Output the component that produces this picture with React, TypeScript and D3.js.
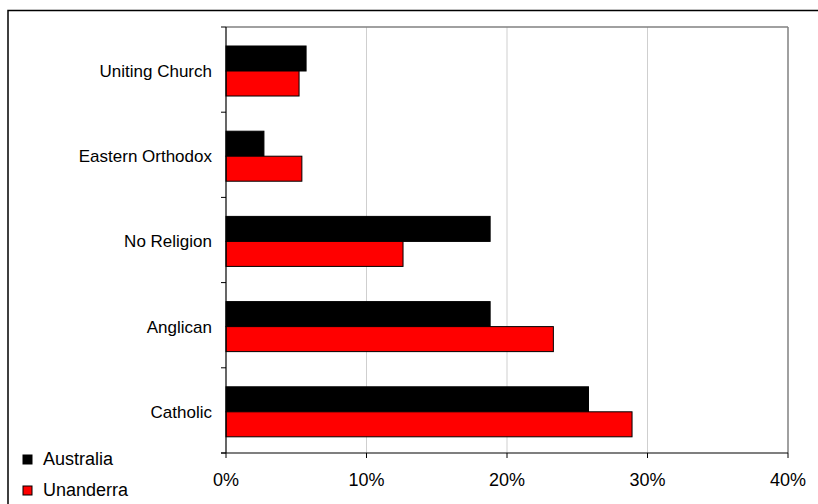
import React from "react";
import * as d3 from "d3";

const categories = ["Uniting Church", "Eastern Orthodox", "No Religion", "Anglican", "Catholic"];
const seriesNames = ["Australia", "Unanderra"];
const australia = [5.7, 2.7, 18.8, 18.8, 25.8];
const unanderra = [5.2, 5.4, 12.6, 23.3, 28.9];
const xTicks = [0, 10, 20, 30, 40];
const colors = ["#000000", "#FF0000"];

const W = 818;
const H = 504;
const left = 226;
const right = 788;
const top = 27;
const bottom = 453;
const font = "'Liberation Sans', Arial, sans-serif";

export default function App() {
  const x = d3.scaleLinear().domain([0, 40]).range([left, right]);
  const yCat = d3.scaleBand<string>().domain(categories).range([top, bottom]).padding(0);
  const groupOffset = yCat.bandwidth() * 0.223;
  const groupHeight = yCat.bandwidth() * 0.587;
  const sub = d3.scaleBand<string>().domain(seriesNames).range([0, groupHeight]);
  const boundaries = categories.map((c) => yCat(c) as number).concat([bottom]);
  const values = [australia, unanderra];

  return (
    <svg width={W} height={H} style={{ position: "absolute", left: 0, top: 0, background: "#fff" }}>
      <rect x={8} y={10.5} width={W} height={H} fill="#fff" stroke="#000" strokeWidth={1.5} />
      {xTicks.slice(1, -1).map((t) => (
        <line key={"g" + t} x1={x(t)} x2={x(t)} y1={top} y2={bottom} stroke="#cfcfcf" strokeWidth={1} />
      ))}
      <line x1={left} x2={right} y1={top} y2={top} stroke="#808080" strokeWidth={1.5} />
      <line x1={right} x2={right} y1={top} y2={bottom} stroke="#808080" strokeWidth={1.5} />
      {categories.map((c, i) =>
        seriesNames.map((s, j) => (
          <rect
            key={c + s}
            x={x(0)}
            y={(yCat(c) as number) + groupOffset + (sub(s) as number)}
            width={x(values[j][i]) - x(0)}
            height={sub.bandwidth()}
            fill={colors[j]}
            stroke="#000"
            strokeWidth={1}
          />
        ))
      )}
      <line x1={left} x2={left} y1={top} y2={bottom} stroke="#000" strokeWidth={1.2} />
      <line x1={left - 5} x2={right} y1={bottom} y2={bottom} stroke="#000" strokeWidth={1.2} />
      {boundaries.map((b, i) => (
        <line key={"yt" + i} x1={left - 5} x2={left} y1={b} y2={b} stroke="#000" strokeWidth={1} />
      ))}
      {xTicks.map((t) => (
        <line key={"xt" + t} x1={x(t)} x2={x(t)} y1={bottom} y2={bottom + 5} stroke="#000" strokeWidth={1} />
      ))}
      {xTicks.map((t) => (
        <text key={"xl" + t} x={x(t)} y={486} textAnchor="middle" fontFamily={font} fontSize={18} fill="#000">
          {t + "%"}
        </text>
      ))}
      {categories.map((c) => (
        <text
          key={"yl" + c}
          x={212}
          y={(yCat(c) as number) + groupOffset + groupHeight / 2}
          dy="0.35em"
          textAnchor="end"
          fontFamily={font}
          fontSize={17}
          fill="#000"
        >
          {c}
        </text>
      ))}
      {seriesNames.map((s, j) => (
        <g key={"lg" + s} transform={`translate(23, ${455 + j * 31})`}>
          <rect x={0} y={0} width={9} height={9} fill={colors[j]} stroke="#000" strokeWidth={1} />
          <text x={20} y={9.5} fontFamily={font} fontSize={18} fill="#000">
            {s}
          </text>
        </g>
      ))}
    </svg>
  );
}
